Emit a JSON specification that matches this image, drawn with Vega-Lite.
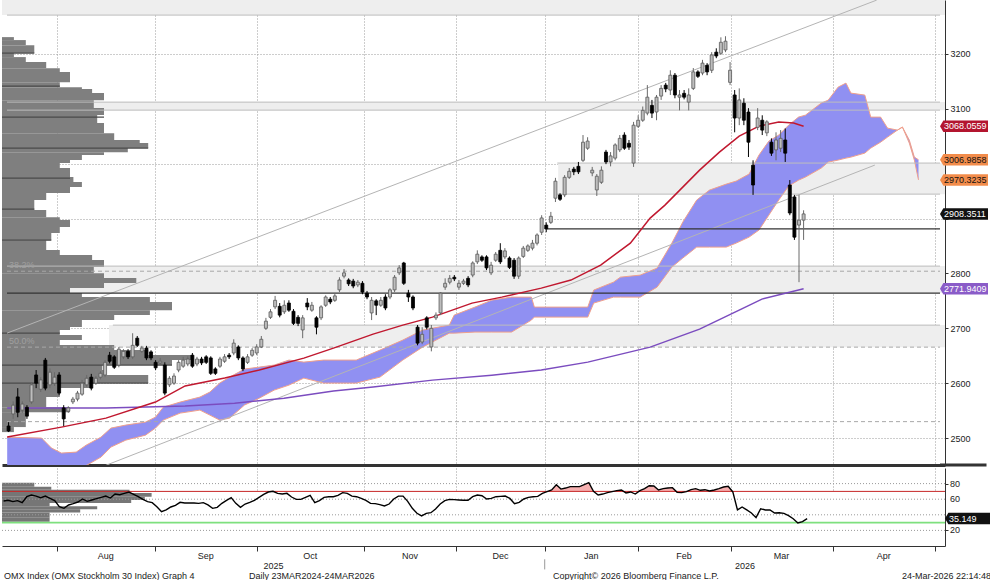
{
  "$schema": "https://vega.github.io/schema/vega-lite/v6.json",
  "padding": 0,
  "spacing": 0,
  "background": "white",
  "config": {
    "view": {"stroke": null},
    "font": "Liberation Sans",
    "axis": {"labelFont": "Liberation Sans", "labelFontSize": 9, "labelColor": "#222222", "domainColor": "#333333", "tickColor": "#333333", "gridColor": "#9a9a9a", "gridDash": [1, 2], "gridWidth": 1, "zindex": 1, "labelOverlap": false},
    "text": {"font": "Liberation Sans", "fontSize": 9}
  },
  "datasets": {
    "ohlc": [
      {"t":-12,"o":2522,"h":2529,"l":2511,"c":2513},{"t":-11,"o":2544,"h":2567,"l":2535,"c":2560},{"t":-10,"o":2575,"h":2591,"l":2538,"c":2547},{"t":-9,"o":2551,"h":2567,"l":2546,"c":2562},{"t":-8,"o":2556,"h":2560,"l":2535,"c":2540},{"t":-7,"o":2566,"h":2600,"l":2562,"c":2597},{"t":-6,"o":2615,"h":2624,"l":2591,"c":2600},{"t":-5,"o":2589,"h":2611,"l":2584,"c":2606},{"t":-4,"o":2642,"h":2646,"l":2587,"c":2591},{"t":-3,"o":2597,"h":2627,"l":2591,"c":2620},{"t":-2,"o":2600,"h":2620,"l":2595,"c":2611},{"t":-1,"o":2615,"h":2620,"l":2578,"c":2582},
      {"t":0,"o":2555,"h":2560,"l":2522,"c":2535},{"t":1,"o":2549,"h":2558,"l":2546,"c":2555},{"t":2,"o":2566,"h":2575,"l":2562,"c":2571},{"t":3,"o":2571,"h":2586,"l":2567,"c":2582},{"t":4,"o":2580,"h":2606,"l":2577,"c":2600},{"t":5,"o":2597,"h":2615,"l":2593,"c":2609},{"t":6,"o":2611,"h":2617,"l":2587,"c":2591},{"t":7,"o":2600,"h":2613,"l":2597,"c":2609},{"t":8,"o":2611,"h":2622,"l":2607,"c":2618},{"t":9,"o":2615,"h":2642,"l":2611,"c":2638},
      {"t":10,"o":2651,"h":2657,"l":2636,"c":2640},{"t":11,"o":2648,"h":2651,"l":2626,"c":2629},{"t":12,"o":2633,"h":2666,"l":2629,"c":2662},{"t":13,"o":2648,"h":2662,"l":2644,"c":2658},{"t":14,"o":2658,"h":2662,"l":2644,"c":2648},{"t":15,"o":2648,"h":2691,"l":2644,"c":2669},{"t":16,"o":2682,"h":2686,"l":2666,"c":2669},{"t":17,"o":2658,"h":2668,"l":2655,"c":2664},{"t":18,"o":2664,"h":2668,"l":2642,"c":2646},{"t":19,"o":2657,"h":2660,"l":2642,"c":2646},
      {"t":20,"o":2638,"h":2642,"l":2624,"c":2628},{"t":21,"o":2637,"h":2646,"l":2633,"c":2640},{"t":22,"o":2633,"h":2638,"l":2578,"c":2582},{"t":23,"o":2597,"h":2613,"l":2593,"c":2609},{"t":24,"o":2600,"h":2618,"l":2597,"c":2613},{"t":25,"o":2624,"h":2642,"l":2620,"c":2638},{"t":26,"o":2631,"h":2648,"l":2628,"c":2642},{"t":27,"o":2635,"h":2649,"l":2631,"c":2644},{"t":28,"o":2651,"h":2655,"l":2628,"c":2631},{"t":29,"o":2635,"h":2648,"l":2631,"c":2644},
      {"t":30,"o":2644,"h":2648,"l":2633,"c":2637},{"t":31,"o":2648,"h":2651,"l":2635,"c":2638},{"t":32,"o":2646,"h":2649,"l":2615,"c":2618},{"t":33,"o":2626,"h":2629,"l":2615,"c":2618},{"t":34,"o":2631,"h":2648,"l":2628,"c":2644},{"t":35,"o":2640,"h":2653,"l":2637,"c":2648},{"t":36,"o":2651,"h":2655,"l":2644,"c":2648},{"t":37,"o":2655,"h":2680,"l":2651,"c":2673},{"t":38,"o":2666,"h":2669,"l":2642,"c":2646},{"t":39,"o":2646,"h":2649,"l":2622,"c":2626},
      {"t":40,"o":2638,"h":2653,"l":2635,"c":2648},{"t":41,"o":2651,"h":2664,"l":2648,"c":2660},{"t":42,"o":2655,"h":2671,"l":2651,"c":2666},{"t":43,"o":2666,"h":2686,"l":2664,"c":2680},{"t":44,"o":2700,"h":2719,"l":2697,"c":2713},{"t":45,"o":2720,"h":2735,"l":2717,"c":2730},{"t":46,"o":2739,"h":2759,"l":2735,"c":2751},{"t":47,"o":2740,"h":2746,"l":2720,"c":2724},{"t":48,"o":2730,"h":2751,"l":2726,"c":2742},{"t":49,"o":2746,"h":2751,"l":2730,"c":2733},
      {"t":50,"o":2731,"h":2735,"l":2706,"c":2709},{"t":51,"o":2720,"h":2724,"l":2704,"c":2709},{"t":52,"o":2697,"h":2724,"l":2682,"c":2719},{"t":53,"o":2746,"h":2755,"l":2733,"c":2739},{"t":54,"o":2733,"h":2748,"l":2730,"c":2742},{"t":55,"o":2719,"h":2722,"l":2689,"c":2702},{"t":56,"o":2719,"h":2742,"l":2715,"c":2739},{"t":57,"o":2742,"h":2760,"l":2739,"c":2757},{"t":58,"o":2753,"h":2757,"l":2744,"c":2748},{"t":59,"o":2751,"h":2764,"l":2748,"c":2759},
      {"t":60,"o":2770,"h":2793,"l":2766,"c":2788},{"t":61,"o":2795,"h":2808,"l":2791,"c":2801},{"t":62,"o":2788,"h":2791,"l":2777,"c":2781},{"t":63,"o":2786,"h":2790,"l":2773,"c":2777},{"t":64,"o":2779,"h":2788,"l":2775,"c":2784},{"t":65,"o":2782,"h":2786,"l":2762,"c":2766},{"t":66,"o":2764,"h":2768,"l":2753,"c":2757},{"t":67,"o":2728,"h":2757,"l":2715,"c":2751},{"t":68,"o":2750,"h":2753,"l":2724,"c":2742},{"t":69,"o":2742,"h":2757,"l":2739,"c":2751},
      {"t":70,"o":2757,"h":2762,"l":2733,"c":2737},{"t":71,"o":2757,"h":2773,"l":2753,"c":2770},{"t":72,"o":2770,"h":2797,"l":2766,"c":2793},{"t":73,"o":2801,"h":2815,"l":2797,"c":2810},{"t":74,"o":2819,"h":2821,"l":2779,"c":2782},{"t":75,"o":2764,"h":2770,"l":2748,"c":2757},{"t":76,"o":2757,"h":2760,"l":2733,"c":2737},{"t":77,"o":2702,"h":2706,"l":2669,"c":2673},{"t":78,"o":2675,"h":2702,"l":2671,"c":2689},{"t":79,"o":2719,"h":2722,"l":2698,"c":2702},
      {"t":80,"o":2666,"h":2706,"l":2658,"c":2700},{"t":81,"o":2719,"h":2729,"l":2715,"c":2724},{"t":82,"o":2728,"h":2766,"l":2724,"c":2764},{"t":83,"o":2775,"h":2791,"l":2770,"c":2782},{"t":84,"o":2784,"h":2797,"l":2780,"c":2791},{"t":85,"o":2793,"h":2797,"l":2786,"c":2790},{"t":86,"o":2775,"h":2788,"l":2770,"c":2782},{"t":87,"o":2782,"h":2790,"l":2779,"c":2786},{"t":88,"o":2791,"h":2795,"l":2775,"c":2779},{"t":89,"o":2797,"h":2822,"l":2793,"c":2819},
      {"t":90,"o":2821,"h":2842,"l":2817,"c":2835},{"t":91,"o":2830,"h":2833,"l":2821,"c":2824},{"t":92,"o":2830,"h":2833,"l":2806,"c":2810},{"t":93,"o":2801,"h":2821,"l":2797,"c":2815},{"t":94,"o":2824,"h":2839,"l":2821,"c":2835},{"t":95,"o":2842,"h":2855,"l":2817,"c":2821},{"t":96,"o":2830,"h":2846,"l":2826,"c":2841},{"t":97,"o":2828,"h":2831,"l":2808,"c":2811},{"t":98,"o":2824,"h":2828,"l":2790,"c":2795},{"t":99,"o":2795,"h":2831,"l":2790,"c":2828},
      {"t":100,"o":2831,"h":2850,"l":2828,"c":2846},{"t":101,"o":2842,"h":2853,"l":2839,"c":2850},{"t":102,"o":2846,"h":2861,"l":2842,"c":2855},{"t":103,"o":2855,"h":2873,"l":2851,"c":2870},{"t":104,"o":2875,"h":2906,"l":2870,"c":2901},{"t":105,"o":2888,"h":2893,"l":2875,"c":2881},{"t":106,"o":2893,"h":2912,"l":2890,"c":2904},{"t":107,"o":2937,"h":2974,"l":2930,"c":2968},{"t":108,"o":2943,"h":2946,"l":2932,"c":2935},{"t":109,"o":2943,"h":2979,"l":2939,"c":2975},
      {"t":110,"o":2975,"h":2992,"l":2972,"c":2986},{"t":111,"o":2990,"h":2994,"l":2979,"c":2985},{"t":112,"o":2995,"h":3003,"l":2981,"c":2985},{"t":113,"o":3006,"h":3052,"l":3003,"c":3039},{"t":114,"o":3028,"h":3048,"l":3025,"c":3041},{"t":115,"o":2983,"h":2994,"l":2977,"c":2988},{"t":116,"o":2952,"h":2981,"l":2941,"c":2977},{"t":117,"o":2966,"h":2995,"l":2963,"c":2988},{"t":118,"o":3021,"h":3025,"l":2999,"c":3003},{"t":119,"o":3003,"h":3021,"l":2995,"c":3014},
      {"t":120,"o":3010,"h":3037,"l":3006,"c":3034},{"t":121,"o":3025,"h":3052,"l":3021,"c":3046},{"t":122,"o":3052,"h":3057,"l":3025,"c":3028},{"t":123,"o":3037,"h":3043,"l":3025,"c":3030},{"t":124,"o":3001,"h":3076,"l":2994,"c":3070},{"t":125,"o":3068,"h":3088,"l":3065,"c":3079},{"t":126,"o":3079,"h":3104,"l":3076,"c":3097},{"t":127,"o":3092,"h":3143,"l":3088,"c":3121},{"t":128,"o":3106,"h":3116,"l":3083,"c":3092},{"t":129,"o":3094,"h":3125,"l":3079,"c":3121},
      {"t":130,"o":3123,"h":3143,"l":3116,"c":3137},{"t":131,"o":3143,"h":3147,"l":3130,"c":3136},{"t":132,"o":3134,"h":3170,"l":3125,"c":3161},{"t":133,"o":3161,"h":3165,"l":3119,"c":3125},{"t":134,"o":3121,"h":3134,"l":3097,"c":3125},{"t":135,"o":3128,"h":3134,"l":3117,"c":3121},{"t":136,"o":3112,"h":3137,"l":3097,"c":3125},{"t":137,"o":3137,"h":3174,"l":3134,"c":3167},{"t":138,"o":3167,"h":3170,"l":3156,"c":3159},{"t":139,"o":3165,"h":3189,"l":3161,"c":3183},
      {"t":140,"o":3179,"h":3183,"l":3161,"c":3167},{"t":141,"o":3170,"h":3203,"l":3165,"c":3198},{"t":142,"o":3203,"h":3210,"l":3192,"c":3196},{"t":143,"o":3201,"h":3230,"l":3198,"c":3221},{"t":144,"o":3207,"h":3232,"l":3203,"c":3223},{"t":145,"o":3148,"h":3185,"l":3143,"c":3170},{"t":146,"o":3125,"h":3134,"l":3057,"c":3083},{"t":147,"o":3083,"h":3137,"l":3070,"c":3116},{"t":148,"o":3110,"h":3119,"l":3070,"c":3079},{"t":149,"o":3094,"h":3101,"l":3012,"c":3039},
      {"t":150,"o":2997,"h":3006,"l":2943,"c":2961},{"t":151,"o":3066,"h":3101,"l":3061,"c":3083},{"t":152,"o":3079,"h":3088,"l":3052,"c":3061},{"t":153,"o":3056,"h":3079,"l":3050,"c":3076},{"t":154,"o":3039,"h":3046,"l":3014,"c":3019},{"t":155,"o":3025,"h":3057,"l":3006,"c":3043},{"t":156,"o":3028,"h":3061,"l":3021,"c":3046},{"t":157,"o":3043,"h":3064,"l":3003,"c":3019},{"t":158,"o":2961,"h":2970,"l":2906,"c":2910},{"t":159,"o":2939,"h":2943,"l":2861,"c":2866},
      {"t":160,"o":2888,"h":2943,"l":2784,"c":2897},{"t":161,"o":2897,"h":2915,"l":2861,"c":2908.35}
    ],
    "cloud": [
      {"t":-12.3,"a":2501.8,"b":2441.7},{"t":-4.8,"a":2500,"b":2441.7},{"t":-2.65,"a":2481.8,"b":2441.7},{"t":-0.5,"a":2472.7,"b":2441.7},{"t":2.73,"a":2474.5,"b":2441.7},{"t":4.89,"a":2487.2,"b":2450},{"t":8.12,"a":2501.8,"b":2465.4},{"t":10.27,"a":2518.2,"b":2483.6},{"t":13.5,"a":2523.7,"b":2496.3},{"t":17.8,"a":2529.1,"b":2505.4},
      {"t":19.96,"a":2538.2,"b":2518.2},{"t":21.68,"a":2556.4,"b":2532.8},{"t":25.33,"a":2565.6,"b":2545.5},{"t":29.64,"a":2574.7,"b":2551},{"t":31.8,"a":2583.8,"b":2541.9},{"t":33.95,"a":2600.2,"b":2532.8},{"t":36.1,"a":2611.1,"b":2536.4},{"t":39.33,"a":2625.7,"b":2560.1},{"t":42.56,"a":2629.3,"b":2572.8},{"t":45.79,"a":2633,"b":2587.4},
      {"t":49.02,"a":2642.1,"b":2596.5},{"t":52.25,"a":2638.4,"b":2609.3},{"t":56.55,"a":2642.1,"b":2600.2},{"t":63.66,"a":2642.1,"b":2600.2},{"t":68.82,"a":2660.3,"b":2611.1},{"t":73.78,"a":2678.5,"b":2642.1},{"t":78.08,"a":2696.7,"b":2665.7},{"t":83.9,"a":2705.8,"b":2691.2},{"t":84.97,"a":2724,"b":2691.2},{"t":89.49,"a":2738.6,"b":2693.1},
      {"t":93.15,"a":2751.3,"b":2693.1},{"t":97.46,"a":2756.8,"b":2693.1},{"t":101.77,"a":2756.8,"b":2714.9},{"t":102.41,"a":2738.6,"b":2720.4},{"t":114.04,"a":2738.6,"b":2720.4},{"t":115.33,"a":2769.6,"b":2745.9},{"t":119.63,"a":2784.1,"b":2756.8},{"t":121.14,"a":2793.2,"b":2756.8},{"t":125.45,"a":2796.9,"b":2756.8},{"t":129.11,"a":2809.6,"b":2775},
      {"t":132.34,"a":2855.2,"b":2811.5},{"t":134.71,"a":2893.4,"b":2827.9},{"t":137.73,"a":2933.5,"b":2847.9},{"t":140.52,"a":2951.7,"b":2847.9},{"t":144.18,"a":2962.7,"b":2847.9},{"t":146.33,"a":2968.1,"b":2855.2},{"t":149.13,"a":2980.9,"b":2866.1},{"t":151.29,"a":3015.5,"b":2878.9},{"t":153.44,"a":3041,"b":2906.2},{"t":155.59,"a":3051.9,"b":2933.5},
      {"t":157.75,"a":3070.1,"b":2959},{"t":159.9,"a":3084.7,"b":2969.9},{"t":161.4,"a":3088.3,"b":2975.4},{"t":164.84,"a":3110.2,"b":2991.8},{"t":166.35,"a":3115.6,"b":3002.7},{"t":168.5,"a":3139.3,"b":3006.4},{"t":170.22,"a":3146.6,"b":3010},{"t":171.3,"a":3128.4,"b":3011.8},{"t":174.32,"a":3124.8,"b":3019.1},{"t":175.61,"a":3084.7,"b":3028.2},
      {"t":177.76,"a":3084.7,"b":3039.1},{"t":179.27,"a":3064.6,"b":3048.3},{"t":181.42,"a":3061,"b":3061},{"t":182.5,"a":3066.5,"b":3066.5},{"t":184,"a":3042.8,"b":3037.3},{"t":185.1,"a":3011.8,"b":3006.4},{"t":186,"a":3006.9858,"b":2970.3235}
    ],
    "ma50": [
      {"t":-12.3,"v":2501.8},{"t":-0.5,"v":2520},{"t":9.19,"v":2536.4},{"t":19.96,"v":2565.6},{"t":26.42,"v":2595},{"t":35.03,"v":2609.3},{"t":42.56,"v":2623.9},{"t":52.25,"v":2645.7},{"t":58.7,"v":2663.9},{"t":67.32,"v":2689.4},{"t":73.78,"v":2705.8},{"t":80.24,"v":2720.4},{"t":88.85,"v":2745.9},{"t":95.31,"v":2756.8},
      {"t":103.92,"v":2773.2},{"t":110.38,"v":2787.8},{"t":116.84,"v":2815.1},{"t":123.3,"v":2855.2},{"t":127.61,"v":2900.7},{"t":130.83,"v":2924.4},{"t":134.06,"v":2951.7},{"t":138.37,"v":2988.1},{"t":142.68,"v":3021},{"t":146.98,"v":3050.1},{"t":151.29,"v":3068.3},{"t":155.59,"v":3075.6},{"t":158.82,"v":3073.8},{"t":161,"v":3068.0559}
    ],
    "ma200": [
      {"t":-12.3,"v":2554.6},{"t":9.19,"v":2554.6},{"t":26.42,"v":2558.3},{"t":37.18,"v":2563.7},{"t":47.95,"v":2572.8},{"t":58.7,"v":2585.6},{"t":67.32,"v":2592.9},{"t":80.24,"v":2605.6},{"t":93.15,"v":2614.7},{"t":103.92,"v":2623.9},{"t":114.04,"v":2638.4},{"t":127.61,"v":2665.7},{"t":138.37,"v":2698.5},{"t":146.98,"v":2733.1},{"t":151.93,"v":2753.2},{"t":161,"v":2771.9409}
    ],
    "chan": [
      {"id":"u","t":-12.34,"p":2691.2},{"id":"u","t":176.9,"p":3297.8},
      {"id":"l","t":7.06,"p":2443.5},{"id":"l","t":176.5,"p":2997.3}
    ],
    "bands": [{"start":-12.34,"lo":3270.5,"hi":3298},{"start":-12.34,"lo":3097.4,"hi":3112},{"start":-12.34,"lo":2764.1,"hi":2813.3},{"start":107.4,"lo":2944.4,"hi":3001},{"start":10.7,"lo":2665.7,"hi":2705.8}],
    "edges": [{"start":-12.34,"p":3270.5},{"start":-12.34,"p":3112},{"start":-12.34,"p":3097.4},{"start":-12.34,"p":2813.3},{"start":107.4,"p":3001},{"start":107.4,"p":2944.4},{"start":10.7,"p":2705.8}],
    "blacklines": [{"start":-12.34,"p":2764.1},{"start":105.2,"p":2881}],
    "fib": [{"start":-12.34,"p":2804,"label":"38.2%"},{"start":-12.34,"p":2665.7,"label":"50.0%"},{"start":-12.34,"p":2530,"label":""}],
    "vp": [
      {"lo":3225,"hi":3230.4,"v":7},{"lo":3215.8,"hi":3225,"v":14},{"lo":3201.3,"hi":3215.8,"v":19},{"lo":3194,"hi":3201.3,"v":7},{"lo":3184.9,"hi":3194,"v":14},{"lo":3173.9,"hi":3184.9,"v":26},{"lo":3166.7,"hi":3173.9,"v":34},{"lo":3148.4,"hi":3166.7,"v":40},{"lo":3139.3,"hi":3148.4,"v":34},{"lo":3135.7,"hi":3139.3,"v":47},
      {"lo":3128.4,"hi":3135.7,"v":53},{"lo":3115.6,"hi":3128.4,"v":60},{"lo":3101.1,"hi":3115.6,"v":54},{"lo":3088.3,"hi":3101.1,"v":60},{"lo":3073.8,"hi":3088.3,"v":56},{"lo":3055.5,"hi":3073.8,"v":60},{"lo":3042.8,"hi":3055.5,"v":66},{"lo":3037.3,"hi":3042.8,"v":81},{"lo":3028.2,"hi":3037.3,"v":86},{"lo":3020.9,"hi":3028.2,"v":74},
      {"lo":3015.5,"hi":3020.9,"v":60},{"lo":3006.4,"hi":3015.5,"v":47},{"lo":3000.9,"hi":3006.4,"v":40},{"lo":2991.8,"hi":3000.9,"v":34},{"lo":2975.4,"hi":2991.8,"v":40},{"lo":2966.3,"hi":2975.4,"v":42},{"lo":2957.2,"hi":2966.3,"v":47},{"lo":2946.3,"hi":2957.2,"v":40},{"lo":2933.5,"hi":2946.3,"v":26},{"lo":2915.3,"hi":2933.5,"v":19},
      {"lo":2902.5,"hi":2915.3,"v":26},{"lo":2897.1,"hi":2902.5,"v":34},{"lo":2884.3,"hi":2897.1,"v":40},{"lo":2873.4,"hi":2884.3,"v":34},{"lo":2860.6,"hi":2873.4,"v":29},{"lo":2842.4,"hi":2860.6,"v":26},{"lo":2833.3,"hi":2842.4,"v":34},{"lo":2824.2,"hi":2833.3,"v":53},{"lo":2811.5,"hi":2824.2,"v":60},{"lo":2800.5,"hi":2811.5,"v":54},
      {"lo":2791.4,"hi":2800.5,"v":60},{"lo":2782.3,"hi":2791.4,"v":79},{"lo":2773.2,"hi":2782.3,"v":60},{"lo":2764.1,"hi":2773.2,"v":40},{"lo":2756.8,"hi":2764.1,"v":47},{"lo":2747.7,"hi":2756.8,"v":87},{"lo":2733.1,"hi":2747.7,"v":100},{"lo":2724,"hi":2733.1,"v":87},{"lo":2714.9,"hi":2724,"v":66},{"lo":2702.2,"hi":2714.9,"v":47},
      {"lo":2696.7,"hi":2702.2,"v":40},{"lo":2687.6,"hi":2696.7,"v":34},{"lo":2678.5,"hi":2687.6,"v":47},{"lo":2669.4,"hi":2678.5,"v":34},{"lo":2660.3,"hi":2669.4,"v":66},{"lo":2651.2,"hi":2660.3,"v":86},{"lo":2642.1,"hi":2651.2,"v":112},{"lo":2633,"hi":2642.1,"v":100},{"lo":2623.9,"hi":2633,"v":59},{"lo":2614.8,"hi":2623.9,"v":60},
      {"lo":2600.2,"hi":2614.8,"v":86},{"lo":2591.1,"hi":2600.2,"v":53},{"lo":2574.7,"hi":2591.1,"v":34},{"lo":2556.4,"hi":2574.7,"v":26},{"lo":2547.3,"hi":2556.4,"v":40},{"lo":2520.1,"hi":2547.3,"v":14},{"lo":2510.9,"hi":2520.1,"v":7}
    ],
    "vplines": [{"p":3201.3,"v":19},{"p":3141.2,"v":34},{"p":3084.7,"v":60},{"p":3028.2,"v":86},{"p":2973.6,"v":40},{"p":2917.1,"v":19},{"p":2860.6,"v":29},{"p":2691.2,"v":34},{"p":2633,"v":100},{"p":2600.2,"v":86}],
    "tags": [
      {"kind":"ma50","v":3068.0559},{"kind":"spanA","v":3006.9858},{"kind":"spanB","v":2970.3235},{"kind":"last","v":2908.3511},{"kind":"ma200","v":2771.9409}
    ],
    "separator": [{"start":190.68,"end":200.8,"p":2451}],
    "rsi": [
      {"t":-12,"v":57.7},{"t":-11,"v":58.6},{"t":-10,"v":56.9},{"t":-9,"v":58.1},{"t":-8,"v":55.5},{"t":-7,"v":63.2},{"t":-6,"v":65.3},{"t":-5,"v":64},{"t":-4,"v":61.9},{"t":-3,"v":64},{"t":-2,"v":61},{"t":-1,"v":58.1},
      {"t":0,"v":50.4},{"t":1,"v":48.3},{"t":2,"v":52.6},{"t":3,"v":54.3},{"t":4,"v":56.4},{"t":5,"v":60.3},{"t":6,"v":57.3},{"t":7,"v":59},{"t":8,"v":60.7},{"t":9,"v":62.4},
      {"t":10,"v":64},{"t":11,"v":61.5},{"t":12,"v":66.6},{"t":13,"v":65.8},{"t":14,"v":67.5},{"t":15,"v":69.2},{"t":16,"v":66.2},{"t":17,"v":63.2},{"t":18,"v":59.8},{"t":19,"v":56.9},
      {"t":20,"v":55.6},{"t":21,"v":50.4},{"t":22,"v":44},{"t":23,"v":46.2},{"t":24,"v":50},{"t":25,"v":52.1},{"t":26,"v":56},{"t":27,"v":55.1},{"t":28,"v":55.1},{"t":29,"v":55.1},
      {"t":30,"v":54.7},{"t":31,"v":55.6},{"t":32,"v":52.6},{"t":33,"v":48.3},{"t":34,"v":49.6},{"t":35,"v":54.7},{"t":36,"v":58.6},{"t":37,"v":62},{"t":38,"v":54.7},{"t":39,"v":49.6},
      {"t":40,"v":53.8},{"t":41,"v":56},{"t":42,"v":58.6},{"t":43,"v":62.4},{"t":44,"v":66.2},{"t":45,"v":69.2},{"t":46,"v":70.1},{"t":47,"v":67.5},{"t":48,"v":66.6},{"t":49,"v":67.5},
      {"t":50,"v":62.8},{"t":51,"v":59.8},{"t":52,"v":59.8},{"t":53,"v":62.4},{"t":54,"v":64.9},{"t":55,"v":55.6},{"t":56,"v":58.1},{"t":57,"v":62.4},{"t":58,"v":63.2},{"t":59,"v":63.2},
      {"t":60,"v":64.9},{"t":61,"v":68.4},{"t":62,"v":67.5},{"t":63,"v":64},{"t":64,"v":63.2},{"t":65,"v":61},{"t":66,"v":58.6},{"t":67,"v":54.7},{"t":68,"v":54.3},{"t":69,"v":53},
      {"t":70,"v":51.3},{"t":71,"v":53.8},{"t":72,"v":60.3},{"t":73,"v":64},{"t":74,"v":64},{"t":75,"v":57.3},{"t":76,"v":48.3},{"t":77,"v":41.9},{"t":78,"v":38.5},{"t":79,"v":41.9},
      {"t":80,"v":42.7},{"t":81,"v":47.4},{"t":82,"v":53.8},{"t":83,"v":58.1},{"t":84,"v":59.8},{"t":85,"v":59.4},{"t":86,"v":59},{"t":87,"v":58.6},{"t":88,"v":58.6},{"t":89,"v":63.2},
      {"t":90,"v":65.3},{"t":91,"v":64.5},{"t":92,"v":60.3},{"t":93,"v":61},{"t":94,"v":63.2},{"t":95,"v":63.6},{"t":96,"v":64},{"t":97,"v":61},{"t":98,"v":54.3},{"t":99,"v":56},
      {"t":100,"v":60.3},{"t":101,"v":62.4},{"t":102,"v":63.2},{"t":103,"v":63.6},{"t":104,"v":67.5},{"t":105,"v":69.7},{"t":106,"v":71.8},{"t":107,"v":78.6},{"t":108,"v":73},{"t":109,"v":74.3},
      {"t":110,"v":76.1},{"t":111,"v":76.1},{"t":112,"v":76.1},{"t":113,"v":78.6},{"t":114,"v":81.2},{"t":115,"v":70.1},{"t":116,"v":65.4},{"t":117,"v":66.6},{"t":118,"v":68.4},{"t":119,"v":69.7},
      {"t":120,"v":71},{"t":121,"v":71.8},{"t":122,"v":68},{"t":123,"v":69.3},{"t":124,"v":66.6},{"t":125,"v":70.9},{"t":126,"v":73.5},{"t":127,"v":77.3},{"t":128,"v":77},{"t":129,"v":71.8},
      {"t":130,"v":73.5},{"t":131,"v":74.3},{"t":132,"v":74.8},{"t":133,"v":68.8},{"t":134,"v":68.4},{"t":135,"v":69.7},{"t":136,"v":72.2},{"t":137,"v":73.5},{"t":138,"v":71.4},{"t":139,"v":72.2},
      {"t":140,"v":70.5},{"t":141,"v":71.8},{"t":142,"v":73.5},{"t":143,"v":75.6},{"t":144,"v":76.5},{"t":145,"v":69.3},{"t":146,"v":46.2},{"t":147,"v":50},{"t":148,"v":46.2},{"t":149,"v":42.3},
      {"t":150,"v":36.3},{"t":151,"v":47.8},{"t":152,"v":46.2},{"t":153,"v":46.2},{"t":154,"v":42.3},{"t":155,"v":42.7},{"t":156,"v":41.9},{"t":157,"v":38.9},{"t":158,"v":35},{"t":159,"v":29.5},
      {"t":160,"v":31.2},{"t":161,"v":35.149}
    ],
    "vprsi": [
      {"lo":76,"hi":81,"v":19},{"lo":72,"hi":76,"v":29},{"lo":68,"hi":72,"v":75},{"lo":63,"hi":68,"v":88},{"lo":59,"hi":63,"v":84},{"lo":55,"hi":59,"v":76},{"lo":51,"hi":55,"v":28},{"lo":47,"hi":51,"v":56},{"lo":43,"hi":47,"v":46},{"lo":37,"hi":43,"v":28},{"lo":31,"hi":37,"v":28}
    ],
    "rsilevels": [{"start":-12.34,"lvl":70,"kind":"ob"},{"start":-12.34,"lvl":30,"kind":"os"}],
    "rsigrid": [{"start":-12.34,"lvl":20,"lab":"20"},{"start":-12.34,"lvl":40,"lab":""},{"start":-12.34,"lvl":60,"lab":"60"},{"start":-12.34,"lvl":80,"lab":"80"}],
    "rsibase": [{"start":-12.34,"lo":0,"hi":70}],
    "rsitag": [{"v":35.149}],
    "months": [
      {"t":10,"m":"Aug"},{"t":31.5,"m":"Sep"},{"t":54,"m":"Oct"},{"t":75.5,"m":"Nov"},{"t":95,"m":"Dec"},{"t":114.5,"m":"Jan"},{"t":134.5,"m":"Feb"},{"t":155.5,"m":"Mar"},{"t":177.5,"m":"Apr"}
    ],
    "years": [{"t":46.1,"yr":"2025"},{"t":147.6,"yr":"2026"}]
  },
  "vconcat": [
    {
      "width": 943,
      "height": 465,
      "resolve": {"scale": {"x": "independent"}},
      "layer": [
        {
          "data": {"name": "bands"},
          "mark": {"type": "rect", "fill": "#eeeeee"},
          "encoding": {
            "x": {"field": "start", "type": "quantitative", "scale": {"domain": [-12.34, 190.68], "nice": false, "zero": false},
              "axis": {"orient": "bottom", "title": null, "values": [-0.5, 20.5, 42.5, 65.5, 85.5, 104.5, 124.5, 144.5, 166.5, 188.5], "grid": true, "ticks": false, "labels": false, "domain": true, "domainWidth": 3, "domainColor": "#333333", "minExtent": 3, "maxExtent": 3}},
            "x2": {"datum": 190.68},
            "y": {"field": "lo", "type": "quantitative", "title": null, "scale": {"domain": [2451, 3298], "nice": false, "zero": false},
              "axis": {"orient": "right", "title": null, "values": [2500, 2600, 2700, 2800, 2900, 3000, 3100, 3200], "format": "d", "labelExpr": "datum.value == 2900 || datum.value == 3000 ? '' : datum.label", "tickSize": 3, "labelPadding": 2, "grid": true, "domain": true}},
            "y2": {"field": "hi"}
          }
        },
        {
          "layer": [
            {
              "data": {"name": "vp"},
              "mark": {"type": "rect", "fill": "#7f7f7f"},
              "encoding": {
                "x": {"field": "v", "type": "quantitative", "scale": {"domain": [0, 554.7], "nice": false, "zero": false}, "axis": null},
                "x2": {"datum": 0},
                "y": {"field": "lo", "type": "quantitative", "title": null, "scale": {"domain": [2451, 3298], "nice": false, "zero": false}},
                "y2": {"field": "hi"}
              }
            },
            {
              "data": {"name": "vplines"},
              "mark": {"type": "rule", "color": "#4a4a4a", "strokeWidth": 1.3},
              "encoding": {
                "x": {"field": "v", "type": "quantitative", "scale": {"domain": [0, 554.7], "nice": false, "zero": false}, "axis": null},
                "x2": {"datum": 0},
                "y": {"field": "p", "type": "quantitative", "title": null, "scale": {"domain": [2451, 3298], "nice": false, "zero": false}}
              }
            }
          ]
        },
        {
          "layer": [
            {
              "data": {"name": "cloud"},
              "mark": {"type": "area", "fill": "#9090f2", "clip": true},
              "encoding": {
                "x": {"field": "t", "type": "quantitative", "scale": {"domain": [-12.34, 190.68], "nice": false, "zero": false}, "axis": null},
                "y": {"field": "a", "type": "quantitative", "title": null, "scale": {"domain": [2451, 3298], "nice": false, "zero": false}},
                "y2": {"field": "b"}
              }
            },
            {
              "data": {"name": "cloud"},
              "mark": {"type": "line", "color": "#f0a08c", "strokeWidth": 1, "clip": true},
              "encoding": {
                "x": {"field": "t", "type": "quantitative", "scale": {"domain": [-12.34, 190.68], "nice": false, "zero": false}, "axis": null},
                "y": {"field": "a", "type": "quantitative", "title": null, "scale": {"domain": [2451, 3298], "nice": false, "zero": false}}
              }
            },
            {
              "data": {"name": "cloud"},
              "mark": {"type": "line", "color": "#f0a08c", "strokeWidth": 1, "clip": true},
              "encoding": {
                "x": {"field": "t", "type": "quantitative", "scale": {"domain": [-12.34, 190.68], "nice": false, "zero": false}, "axis": null},
                "y": {"field": "b", "type": "quantitative", "title": null, "scale": {"domain": [2451, 3298], "nice": false, "zero": false}}
              }
            },
            {
              "data": {"name": "edges"},
              "mark": {"type": "rule", "color": "#bdbdbd", "strokeWidth": 1},
              "encoding": {
                "x": {"field": "start", "type": "quantitative", "scale": {"domain": [-12.34, 190.68], "nice": false, "zero": false}, "axis": null},
                "x2": {"datum": 190.68},
                "y": {"field": "p", "type": "quantitative", "title": null, "scale": {"domain": [2451, 3298], "nice": false, "zero": false}}
              }
            },
            {
              "data": {"name": "chan"},
              "mark": {"type": "line", "color": "#b4b4b4", "strokeWidth": 1, "clip": true},
              "encoding": {
                "x": {"field": "t", "type": "quantitative", "scale": {"domain": [-12.34, 190.68], "nice": false, "zero": false}, "axis": null},
                "y": {"field": "p", "type": "quantitative", "title": null, "scale": {"domain": [2451, 3298], "nice": false, "zero": false}},
                "detail": {"field": "id", "type": "nominal"}
              }
            },
            {
              "data": {"name": "fib"},
              "mark": {"type": "rule", "color": "#a8a8a8", "strokeWidth": 1, "strokeDash": [4, 3]},
              "encoding": {
                "x": {"field": "start", "type": "quantitative", "scale": {"domain": [-12.34, 190.68], "nice": false, "zero": false}, "axis": null},
                "x2": {"datum": 190.68},
                "y": {"field": "p", "type": "quantitative", "title": null, "scale": {"domain": [2451, 3298], "nice": false, "zero": false}}
              }
            },
            {
              "data": {"name": "blacklines"},
              "mark": {"type": "rule", "color": "#333333", "strokeWidth": 1.2},
              "encoding": {
                "x": {"field": "start", "type": "quantitative", "scale": {"domain": [-12.34, 190.68], "nice": false, "zero": false}, "axis": null},
                "x2": {"datum": 190.68},
                "y": {"field": "p", "type": "quantitative", "title": null, "scale": {"domain": [2451, 3298], "nice": false, "zero": false}}
              }
            },
            {
              "data": {"name": "separator"},
              "mark": {"type": "rule", "color": "#333333", "strokeWidth": 3},
              "encoding": {
                "x": {"field": "start", "type": "quantitative", "scale": {"domain": [-12.34, 190.68], "nice": false, "zero": false}, "axis": null},
                "x2": {"field": "end"},
                "y": {"field": "p", "type": "quantitative", "title": null, "scale": {"domain": [2451, 3298], "nice": false, "zero": false}}
              }
            },
            {
              "data": {"name": "fib"},
              "mark": {"type": "text", "color": "#a0a0a0", "align": "left", "baseline": "bottom", "dx": 2, "dy": -1, "fontSize": 9},
              "encoding": {
                "x": {"field": "start", "type": "quantitative", "scale": {"domain": [-12.34, 190.68], "nice": false, "zero": false}, "axis": null},
                "y": {"field": "p", "type": "quantitative", "title": null, "scale": {"domain": [2451, 3298], "nice": false, "zero": false}},
                "text": {"field": "label", "type": "nominal"}
              }
            },
            {
              "data": {"name": "ma200"},
              "mark": {"type": "line", "color": "#7b4cbf", "strokeWidth": 1.5, "clip": true},
              "encoding": {
                "x": {"field": "t", "type": "quantitative", "scale": {"domain": [-12.34, 190.68], "nice": false, "zero": false}, "axis": null},
                "y": {"field": "v", "type": "quantitative", "title": null, "scale": {"domain": [2451, 3298], "nice": false, "zero": false}}
              }
            },
            {
              "data": {"name": "ma50"},
              "mark": {"type": "line", "color": "#c0182f", "strokeWidth": 1.5, "clip": true},
              "encoding": {
                "x": {"field": "t", "type": "quantitative", "scale": {"domain": [-12.34, 190.68], "nice": false, "zero": false}, "axis": null},
                "y": {"field": "v", "type": "quantitative", "title": null, "scale": {"domain": [2451, 3298], "nice": false, "zero": false}}
              }
            },
            {
              "data": {"name": "ohlc"},
              "mark": {"type": "rule", "strokeWidth": 1},
              "encoding": {
                "x": {"field": "t", "type": "quantitative", "scale": {"domain": [-12.34, 190.68], "nice": false, "zero": false}, "axis": null},
                "y": {"field": "l", "type": "quantitative", "title": null, "scale": {"domain": [2451, 3298], "nice": false, "zero": false}},
                "y2": {"field": "h"},
                "color": {"condition": {"test": "datum.c >= datum.o", "value": "#6a6a6a"}, "value": "#000000"}
              }
            },
            {
              "data": {"name": "ohlc"},
              "mark": {"type": "bar", "width": 3, "strokeWidth": 0.8},
              "encoding": {
                "x": {"field": "t", "type": "quantitative", "scale": {"domain": [-12.34, 190.68], "nice": false, "zero": false}, "axis": null},
                "y": {"field": "o", "type": "quantitative", "title": null, "scale": {"domain": [2451, 3298], "nice": false, "zero": false}},
                "y2": {"field": "c"},
                "fill": {"condition": {"test": "datum.c >= datum.o", "value": "#bdbdbd"}, "value": "#000000"},
                "stroke": {"condition": {"test": "datum.c >= datum.o", "value": "#5a5a5a"}, "value": "#000000"}
              }
            },
            {
              "data": {"name": "tags"},
              "mark": {"type": "point", "shape": "M0,0L0.07,-0.12L1,-0.12L1,0.12L0.07,0.12Z", "size": 9216, "filled": true, "opacity": 1, "strokeWidth": 0},
              "encoding": {
                "x": {"datum": 190.68, "type": "quantitative", "scale": {"domain": [-12.34, 190.68], "nice": false, "zero": false}, "axis": null},
                "y": {"field": "v", "type": "quantitative", "title": null, "scale": {"domain": [2451, 3298], "nice": false, "zero": false}},
                "fill": {"field": "kind", "type": "nominal", "scale": {"domain": ["ma50", "spanA", "spanB", "last", "ma200"], "range": ["#b3152f", "#f28c4b", "#f28c4b", "#111111", "#8a5cc8"]}, "legend": null}
              }
            },
            {
              "data": {"name": "tags"},
              "mark": {"type": "text", "align": "left", "baseline": "middle", "dx": 4, "fontSize": 9},
              "encoding": {
                "x": {"datum": 190.68, "type": "quantitative", "scale": {"domain": [-12.34, 190.68], "nice": false, "zero": false}, "axis": null},
                "y": {"field": "v", "type": "quantitative", "title": null, "scale": {"domain": [2451, 3298], "nice": false, "zero": false}},
                "text": {"field": "v", "type": "quantitative", "format": ".4f"},
                "color": {"condition": {"test": "datum.kind == 'spanA' || datum.kind == 'spanB'", "value": "#111111"}, "value": "#ffffff"}
              }
            }
          ]
        }
      ]
    },
    {
      "width": 943,
      "height": 78,
      "resolve": {"scale": {"x": "independent"}},
      "layer": [
        {
          "layer": [
            {
              "data": {"name": "rsi"},
              "mark": {"type": "area", "fill": "#f6b0b0"},
              "encoding": {
                "x": {"field": "t", "type": "quantitative", "title": null, "scale": {"domain": [-12.34, 190.68], "nice": false, "zero": false},
                  "axis": {"orient": "bottom", "title": null, "values": [-0.5, 20.5, 42.5, 65.5, 85.5, 104.5, 124.5, 144.5, 166.5, 188.5], "grid": true, "ticks": true, "tickSize": 5, "labels": false, "domain": true, "domainColor": "#333333", "minExtent": 5, "maxExtent": 5}},
                "y": {"field": "v", "type": "quantitative", "title": null, "scale": {"domain": [0, 100], "nice": false, "zero": false},
                  "axis": {"orient": "right", "title": null, "values": [20, 40, 60, 80], "labels": false, "tickSize": 3, "grid": false, "domain": true, "minExtent": 30}},
                "y2": {"datum": 70}
              }
            },
            {
              "data": {"name": "rsibase"},
              "mark": {"type": "rect", "fill": "#ffffff"},
              "encoding": {
                "x": {"field": "start", "type": "quantitative", "title": null, "scale": {"domain": [-12.34, 190.68], "nice": false, "zero": false}},
                "x2": {"datum": 190.68},
                "y": {"field": "lo", "type": "quantitative", "title": null, "scale": {"domain": [0, 100], "nice": false, "zero": false}},
                "y2": {"field": "hi"}
              }
            }
          ]
        },
        {
          "data": {"name": "vprsi"},
          "mark": {"type": "rect", "fill": "#767676"},
          "encoding": {
            "x": {"field": "v", "type": "quantitative", "scale": {"domain": [0, 554.7], "nice": false, "zero": false}, "axis": null},
            "x2": {"datum": 0},
            "y": {"field": "lo", "type": "quantitative", "title": null, "scale": {"domain": [0, 100], "nice": false, "zero": false}},
            "y2": {"field": "hi"}
          }
        },
        {
          "layer": [
            {
              "data": {"name": "rsigrid"},
              "mark": {"type": "rule", "color": "#9a9a9a", "strokeWidth": 1, "strokeDash": [1, 2]},
              "encoding": {
                "x": {"field": "start", "type": "quantitative", "scale": {"domain": [-12.34, 190.68], "nice": false, "zero": false}, "axis": null},
                "x2": {"datum": 190.68},
                "y": {"field": "lvl", "type": "quantitative", "title": null, "scale": {"domain": [0, 100], "nice": false, "zero": false}}
              }
            },
            {
              "data": {"name": "rsilevels"},
              "mark": {"type": "rule"},
              "encoding": {
                "x": {"field": "start", "type": "quantitative", "scale": {"domain": [-12.34, 190.68], "nice": false, "zero": false}, "axis": null},
                "x2": {"datum": 190.68},
                "y": {"field": "lvl", "type": "quantitative", "title": null, "scale": {"domain": [0, 100], "nice": false, "zero": false}},
                "color": {"field": "kind", "type": "nominal", "scale": {"domain": ["ob", "os"], "range": ["#c62828", "#7ee07e"]}, "legend": null},
                "strokeWidth": {"field": "kind", "type": "nominal", "scale": {"domain": ["ob", "os"], "range": [1, 1.6]}, "legend": null}
              }
            },
            {
              "data": {"name": "rsi"},
              "mark": {"type": "line", "color": "#000000", "strokeWidth": 1.4},
              "encoding": {
                "x": {"field": "t", "type": "quantitative", "scale": {"domain": [-12.34, 190.68], "nice": false, "zero": false}, "axis": null},
                "y": {"field": "v", "type": "quantitative", "title": null, "scale": {"domain": [0, 100], "nice": false, "zero": false}}
              }
            },
            {
              "data": {"name": "rsigrid"},
              "mark": {"type": "text", "align": "left", "baseline": "middle", "dx": 5, "fontSize": 9, "color": "#222222"},
              "encoding": {
                "x": {"datum": 190.68, "type": "quantitative", "scale": {"domain": [-12.34, 190.68], "nice": false, "zero": false}, "axis": null},
                "y": {"field": "lvl", "type": "quantitative", "title": null, "scale": {"domain": [0, 100], "nice": false, "zero": false}},
                "text": {"field": "lab", "type": "nominal"}
              }
            },
            {
              "data": {"name": "rsitag"},
              "mark": {"type": "point", "shape": "M0,0L0.07,-0.12L1,-0.12L1,0.12L0.07,0.12Z", "size": 9216, "filled": true, "opacity": 1, "strokeWidth": 0, "fill": "#111111"},
              "encoding": {
                "x": {"datum": 190.68, "type": "quantitative", "scale": {"domain": [-12.34, 190.68], "nice": false, "zero": false}, "axis": null},
                "y": {"field": "v", "type": "quantitative", "title": null, "scale": {"domain": [0, 100], "nice": false, "zero": false}}
              }
            },
            {
              "data": {"name": "rsitag"},
              "mark": {"type": "text", "align": "left", "baseline": "middle", "dx": 4, "fontSize": 9, "color": "#ffffff"},
              "encoding": {
                "x": {"datum": 190.68, "type": "quantitative", "scale": {"domain": [-12.34, 190.68], "nice": false, "zero": false}, "axis": null},
                "y": {"field": "v", "type": "quantitative", "title": null, "scale": {"domain": [0, 100], "nice": false, "zero": false}},
                "text": {"field": "v", "type": "quantitative", "format": ".3f"}
              }
            }
          ]
        }
      ]
    },
    {
      "width": 943,
      "height": 29,
      "layer": [
        {
          "data": {"name": "months"},
          "mark": {"type": "text", "align": "center", "baseline": "middle", "color": "#222222"},
          "encoding": {
            "x": {"field": "t", "type": "quantitative", "scale": {"domain": [-12.34, 190.68], "nice": false, "zero": false}, "axis": null},
            "y": {"datum": 0.35, "type": "quantitative", "scale": {"domain": [0, 3], "reverse": true, "nice": false, "zero": false}, "axis": null},
            "text": {"field": "m", "type": "nominal"}
          }
        },
        {
          "data": {"name": "years"},
          "mark": {"type": "text", "align": "center", "baseline": "middle", "color": "#222222"},
          "encoding": {
            "x": {"field": "t", "type": "quantitative", "scale": {"domain": [-12.34, 190.68], "nice": false, "zero": false}, "axis": null},
            "y": {"datum": 1.35, "type": "quantitative", "scale": {"domain": [0, 3], "reverse": true, "nice": false, "zero": false}, "axis": null},
            "text": {"field": "yr", "type": "nominal"}
          }
        },
        {
          "data": {"values": [{"t": 104.5}]},
          "mark": {"type": "rule", "color": "#999999", "strokeWidth": 1},
          "encoding": {
            "x": {"field": "t", "type": "quantitative", "scale": {"domain": [-12.34, 190.68], "nice": false, "zero": false}, "axis": null},
            "y": {"datum": 0.65, "type": "quantitative", "scale": {"domain": [0, 3], "reverse": true, "nice": false, "zero": false}, "axis": null},
            "y2": {"datum": 1.7}
          }
        },
        {
          "data": {"values": [
            {"t": -11.9, "txt": "OMX Index (OMX Stockholm 30 Index) Graph 4"},
            {"t": 40.84, "txt": "Daily 23MAR2024-24MAR2026"},
            {"t": 106.3, "txt": "Copyright© 2026 Bloomberg Finance L.P."},
            {"t": 181.4, "txt": "24-Mar-2026 22:14:48"}
          ]},
          "mark": {"type": "text", "align": "left", "baseline": "middle", "color": "#222222"},
          "encoding": {
            "x": {"field": "t", "type": "quantitative", "scale": {"domain": [-12.34, 190.68], "nice": false, "zero": false}, "axis": null},
            "y": {"datum": 2.35, "type": "quantitative", "scale": {"domain": [0, 3], "reverse": true, "nice": false, "zero": false}, "axis": null},
            "text": {"field": "txt", "type": "nominal"}
          }
        }
      ]
    }
  ]
}
